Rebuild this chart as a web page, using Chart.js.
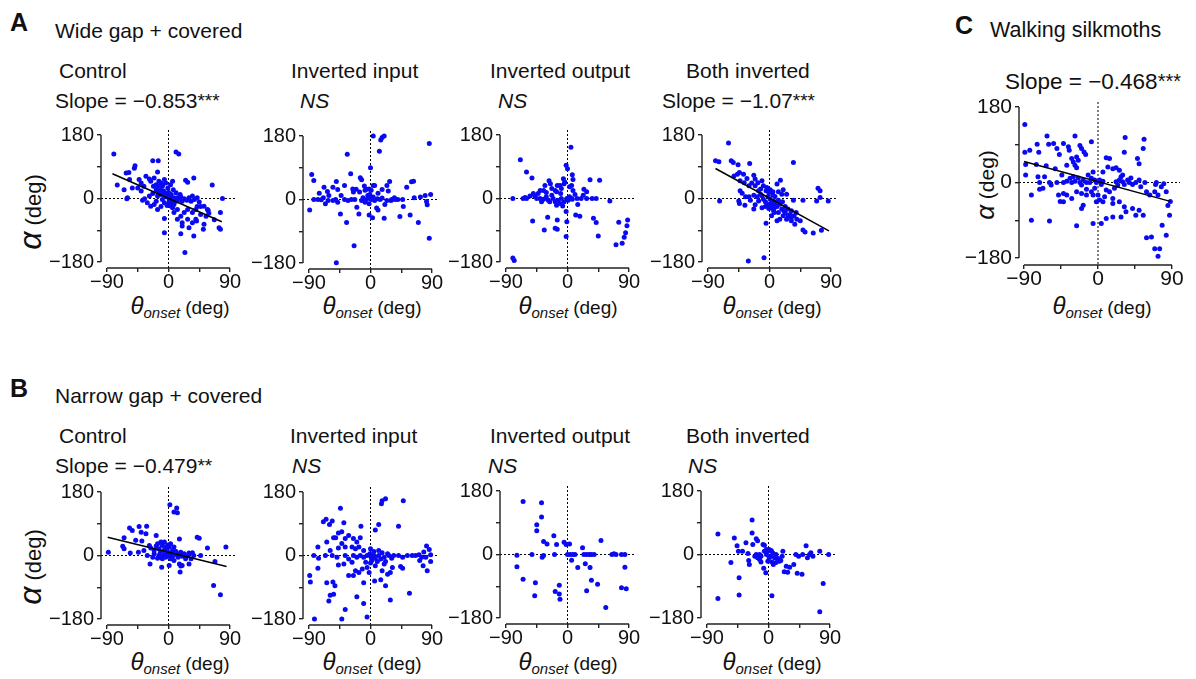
<!DOCTYPE html>
<html lang="en">
<head>
<meta charset="UTF-8" />
<title>Steering angle vs onset angle</title>
<script src="https://cdn.jsdelivr.net/npm/chart.js"></script>
<style>
    * { margin: 0; padding: 0; box-sizing: border-box; }
    body {
        width: 1196px;
        height: 679px;
        position: relative;
        overflow: hidden;
        background: #ffffff;
        color: #111;
        font-family: Arial, "Liberation Sans", sans-serif;
    }
    canvas { position: absolute; }
    .t { position: absolute; white-space: nowrap; line-height: 1; font-size: 21px; }
    .big { font-weight: bold; font-size: 25px; }
    .ns { font-style: italic; }
    .star { font-size: 19px; vertical-align: 1px; }
    .xt { position: absolute; white-space: nowrap; line-height: 1; font-size: 19px; transform: translateX(-50%); }
    .xt .th { font-size: 24px; }
    .xt .sub { font-size: 15px; vertical-align: -4px; margin-right: 5px; }
    .yt { position: absolute; white-space: nowrap; line-height: 1; font-size: 22px; transform: translate(-50%, -50%) rotate(-90deg); }
    .yt .al { font-size: 32px; }
</style>
</head>
<body>
    <!-- panel A -->
    <div class="t big" style="left:10px; top:10px">A</div>
    <div class="t" style="left:55px; top:20px">Wide gap + covered</div>
    <div class="t" style="left:59px; top:60px">Control</div>
    <div class="t" style="left:55px; top:90px">Slope = &minus;0.853<span class="star">***</span></div>
    <div class="t" style="left:291px; top:60px">Inverted input</div>
    <div class="t ns" style="left:300px; top:90px">NS</div>
    <div class="t" style="left:490px; top:60px">Inverted output</div>
    <div class="t ns" style="left:498px; top:90px">NS</div>
    <div class="t" style="left:686px; top:60px">Both inverted</div>
    <div class="t" style="left:662px; top:90px">Slope = &minus;1.07<span class="star">***</span></div>

    <!-- panel B -->
    <div class="t big" style="left:10px; top:376px">B</div>
    <div class="t" style="left:55px; top:385px">Narrow gap + covered</div>
    <div class="t" style="left:59px; top:425px">Control</div>
    <div class="t" style="left:55px; top:455px">Slope = &minus;0.479<span class="star">**</span></div>
    <div class="t" style="left:290px; top:425px">Inverted input</div>
    <div class="t ns" style="left:292px; top:455px">NS</div>
    <div class="t" style="left:490px; top:425px">Inverted output</div>
    <div class="t ns" style="left:488px; top:455px">NS</div>
    <div class="t" style="left:686px; top:425px">Both inverted</div>
    <div class="t ns" style="left:688px; top:455px">NS</div>

    <!-- panel C -->
    <div class="t big" style="left:955px; top:13px">C</div>
    <div class="t" style="left:990px; top:20px; font-size:21.5px">Walking silkmoths</div>
    <div class="t" style="left:1005px; top:71px; font-size:22.5px">Slope = &minus;0.468<span class="star" style="font-size:20px">***</span></div>

    <!-- axis titles -->
    <div class="yt" style="left:30px; top:212px"><i class="al">&alpha;</i> (deg)</div>
    <div class="yt" style="left:30px; top:567px"><i class="al">&alpha;</i> (deg)</div>
    <div class="yt" style="left:985px; top:185px; font-size:21px"><i class="al" style="font-size:26px">&alpha;</i> (deg)</div>

    <div class="xt" style="left:180px; top:294px"><i class="th">&theta;</i><i class="sub">onset</i>(deg)</div>
    <div class="xt" style="left:372px; top:294px"><i class="th">&theta;</i><i class="sub">onset</i>(deg)</div>
    <div class="xt" style="left:568px; top:294px"><i class="th">&theta;</i><i class="sub">onset</i>(deg)</div>
    <div class="xt" style="left:772px; top:294px"><i class="th">&theta;</i><i class="sub">onset</i>(deg)</div>
    <div class="xt" style="left:180px; top:650px"><i class="th">&theta;</i><i class="sub">onset</i>(deg)</div>
    <div class="xt" style="left:372px; top:650px"><i class="th">&theta;</i><i class="sub">onset</i>(deg)</div>
    <div class="xt" style="left:568px; top:650px"><i class="th">&theta;</i><i class="sub">onset</i>(deg)</div>
    <div class="xt" style="left:772px; top:650px"><i class="th">&theta;</i><i class="sub">onset</i>(deg)</div>
    <div class="xt" style="left:1102px; top:294px"><i class="th">&theta;</i><i class="sub">onset</i>(deg)</div>

    <canvas id="wideControl"></canvas>
    <canvas id="wideInvIn"></canvas>
    <canvas id="wideInvOut"></canvas>
    <canvas id="wideBoth"></canvas>
    <canvas id="narrowControl"></canvas>
    <canvas id="narrowInvIn"></canvas>
    <canvas id="narrowInvOut"></canvas>
    <canvas id="narrowBoth"></canvas>
    <canvas id="walking"></canvas>

<script>
    // tick values and which of them get a label
    const xTicks = [-90, -45, 0, 45, 90];
    const xLabels = [-90, 0, 90];
    const yTicks = [-180, -90, 0, 90, 180];
    const yLabels = [-180, 0, 180];

    // [theta_onset, alpha] pairs
    const wideControl = [
        [-80,126],[11,132],[15,126],[-23,107],[-15,107],[-49,93],[-50,86],[-58,74],[-62,72],[-16,75],
        [25,52],[28,46],[37,58],[64,38],[-75,38],[-60,2],[-61,-1],[79,0],[76,-40],[76,-87],
        [74,-83],[67,-60],[58,-33],[55,-50],[47,-45],[42,-23],[-6,-57],[-6,-97],[18,-100],[37,-106],
        [24,-153],[51,-87],[41,-64],[35,-69],[28,-59],[20,-69],[-43,54],[-40,44],[-33,63],[-28,55],
        [-26,49],[-21,58],[-18,39],[-14,49],[-11,44],[-9,35],[-4,44],[-1,30],[3,39],[7,25],
        [4,11],[-28,7],[-23,14],[-31,-12],[-26,-22],[-38,-5],[-35,-1],[-18,-8],[-16,7],[-14,21],
        [-11,11],[-9,-3],[-6,-12],[-4,5],[1,-3],[1,-12],[4,-22],[8,-17],[11,-8],[13,2],
        [16,-3],[18,5],[20,-8],[23,-1],[27,-5],[30,2],[33,-8],[35,7],[38,-3],[42,2],
        [45,-10],[47,-23],[52,-22],[57,-31],[59,-42],[40,-31],[35,-40],[28,-31],[23,-40],[18,-50],
        [13,-31],[8,-40],[6,-26],[13,-59],[20,-78],[30,-83],[40,-59],[52,-73],[8,2],[6,-10],
        [-2,-20],[-11,-23],[-16,-31],[-21,-17],[-18,25],[-22,35],[-16,35],[-12,25],[-7,21],[-5,14],
        [0,18],[2,7],[6,-1],[-1,11],[-9,39],[-6,54],[6,49],[11,16],[17,11],[-40,21],
        [-45,30],[-53,30],[-36,35],[-57,54],[-65,25]
    ];
    const wideInvIn = [
        [4,180],[17,176],[15,169],[20,180],[13,137],[0,90],[86,159],[-34,128],[-86,71],[-83,54],
        [-29,73],[-50,51],[-68,35],[-63,23],[-75,18],[-55,35],[-48,28],[-38,40],[-26,30],[-21,29],
        [-15,62],[-13,56],[-9,38],[-16,21],[-6,29],[-1,14],[4,40],[6,40],[11,18],[17,28],
        [24,40],[28,51],[26,24],[35,5],[40,0],[47,0],[53,35],[60,50],[63,52],[64,5],
        [73,7],[80,11],[88,14],[82,-6],[83,-15],[-89,-30],[-83,0],[-77,0],[-72,-1],[-66,-12],
        [-62,-3],[-55,-3],[-51,0],[-48,-8],[-44,-41],[-35,-65],[-38,0],[-33,-3],[-28,0],[-20,-22],
        [-17,-41],[-13,-3],[-8,-8],[-6,0],[-3,5],[-2,-12],[1,0],[4,7],[-2,-44],[3,-52],
        [9,-24],[11,-30],[14,0],[17,4],[21,-14],[20,-53],[30,-3],[36,0],[43,-48],[48,-20],
        [58,-44],[70,-65],[86,-110],[-24,-131],[-50,-179],[-8,26],[-4,11],[6,-3],[10,2],[24,-3],
        [31,0],[-23,0],[-43,11],[-61,11],[-69,5],[-11,5],[1,26],[-2,30],[-25,21]
    ];
    const wideInvOut = [
        [5,145],[-69,110],[-60,75],[-52,58],[-2,94],[0,84],[7,67],[8,54],[-6,56],[-4,47],
        [-27,50],[-25,42],[33,53],[47,52],[24,26],[28,19],[6,37],[8,23],[-15,37],[-11,37],
        [-18,23],[-33,37],[-35,23],[-40,23],[-43,14],[-50,14],[-55,7],[-48,7],[-62,3],[-65,0],
        [-80,0],[-60,0],[-40,0],[-38,-9],[-35,-2],[-31,5],[-28,-5],[-23,9],[-21,0],[-18,-9],
        [-16,-19],[-14,-5],[-10,14],[-9,0],[-5,-9],[-1,0],[1,-5],[3,5],[6,0],[-2,-37],
        [-1,-66],[-2,-108],[-15,-61],[-18,-84],[-15,-87],[-29,-53],[-34,-89],[-51,-64],[12,-47],[18,-50],
        [15,-17],[23,9],[28,0],[36,0],[42,0],[38,-56],[42,-68],[45,-106],[62,-7],[71,-131],
        [75,-67],[80,-127],[83,-110],[85,-97],[87,-77],[88,-61],[-80,-169],[-78,-176],[-23,28],[-16,19],
        [-9,28],[-5,42],[3,33],[11,11],[14,0],[20,0],[-31,17],[-45,0],[-26,-9],[-11,-14],
        [-7,-21],[7,-2]
    ];
    const wideBoth = [
        [-60,157],[-79,107],[-74,104],[-56,107],[-53,102],[-46,96],[-29,99],[35,102],[71,29],[74,22],
        [-73,-7],[-52,64],[-47,69],[-44,74],[-38,69],[-33,57],[-23,66],[-21,55],[-17,45],[-11,50],
        [-43,50],[-37,45],[-30,36],[-26,44],[-13,27],[-9,36],[-4,31],[1,25],[5,19],[11,41],
        [16,52],[13,19],[18,12],[20,25],[25,12],[35,-5],[49,-5],[69,-7],[74,3],[86,-7],
        [-43,22],[-40,15],[-35,5],[-30,5],[-23,9],[-18,5],[-13,12],[-45,-7],[-44,-14],[-36,-19],
        [-28,-5],[-21,-18],[-23,-30],[-9,-2],[-6,-9],[-2,6],[1,-2],[3,-11],[6,-7],[8,-16],
        [11,-23],[2,-26],[6,-35],[13,-5],[15,-16],[19,-9],[23,-23],[27,-30],[30,-45],[32,-35],
        [36,-49],[40,-59],[45,-63],[49,-89],[52,-95],[64,-98],[76,-90],[37,-73],[25,-59],[20,-49],
        [15,-59],[11,-63],[-5,-70],[3,-49],[7,-40],[-1,-28],[-6,-23],[-11,-26],[-8,-168],[-31,-177],
        [23,-40],[27,-49],[32,-63],[13,-40],[8,6],[5,9],[-1,17],[-5,22],[-11,8],[-16,22],
        [-21,36],[-16,-7],[-3,-16],[0,-21],[3,-19],[7,-26],[18,-30],[21,-35],[39,-40],[32,-54]
    ];
    const narrowControl = [
        [2,144],[8,123],[12,135],[13,121],[-57,78],[-53,71],[-43,82],[-32,83],[-40,66],[-33,62],
        [-18,57],[-65,50],[-67,26],[-65,19],[-88,9],[-56,7],[-48,43],[-39,41],[-44,9],[-36,14],
        [-28,28],[-26,21],[-21,14],[-18,27],[-16,33],[-11,38],[-9,28],[-6,38],[-4,24],[-2,14],
        [-1,30],[1,24],[3,33],[6,14],[8,24],[11,11],[16,47],[13,5],[18,9],[23,5],
        [28,0],[35,8],[42,52],[45,49],[57,21],[84,24],[68,-17],[-14,0],[-16,-8],[-11,-5],
        [-6,2],[-9,-9],[-4,-5],[1,0],[3,-9],[6,-2],[8,-14],[-10,-33],[-27,-24],[1,-28],
        [16,-24],[18,-30],[20,-28],[17,-47],[30,-24],[33,-9],[30,7],[47,0],[66,-85],[76,-111],
        [-23,-5],[-31,0],[-21,5],[-14,19],[-7,14],[-1,8],[4,8],[8,2],[14,-5],[20,-2],
        [25,-9],[37,0],[-12,8]
    ];
    const narrowInvIn = [
        [-44,134],[17,155],[22,161],[16,147],[48,155],[-69,96],[-65,103],[-56,98],[-60,88],[-39,93],
        [41,83],[12,88],[7,72],[-14,83],[-42,67],[-32,57],[-54,50],[-51,50],[-47,64],[-64,38],
        [-77,24],[-37,48],[-25,48],[-20,38],[-15,50],[-42,34],[-37,24],[-47,21],[-59,14],[-27,24],
        [-22,19],[-17,24],[-10,14],[0,19],[5,11],[12,14],[17,8],[25,5],[-83,0],[-76,-8],
        [-66,0],[-56,0],[-49,-5],[-47,-27],[-37,0],[-32,-10],[-25,0],[-20,-5],[-15,0],[-10,-5],
        [-5,0],[-1,5],[1,-5],[2,-14],[5,0],[7,-8],[10,-17],[12,0],[15,-10],[20,-5],
        [22,-17],[27,0],[31,-8],[34,0],[41,0],[47,-5],[54,0],[61,0],[66,0],[71,2],
        [75,-5],[78,10],[82,27],[86,17],[88,2],[81,-5],[77,-29],[83,-43],[88,-17],[72,-14],
        [44,-31],[47,-36],[29,-48],[25,-53],[17,-43],[15,-69],[6,-72],[-2,-48],[-5,-34],[-12,-38],
        [-17,-48],[-22,-43],[-10,-77],[-25,-57],[-32,-57],[-89,-57],[-88,-75],[-77,-36],[-64,-77],[-55,-75],
        [-52,-86],[-54,-110],[-59,-113],[-61,-129],[-20,-117],[-10,-136],[-37,-153],[-42,-180],[-82,-180],[-5,-174],
        [29,-126],[57,-107],[22,-86],[2,-10],[-7,-19],[0,-21],[7,-29],[20,-24],[32,-34],[-27,-19],
        [-39,-24]
    ];
    const narrowInvOut = [
        [-65,150],[-38,147],[-38,106],[-45,84],[-45,67],[-35,37],[-30,30],[-20,53],[-16,28],[-5,35],
        [-2,28],[3,30],[22,19],[49,40],[-74,-2],[-52,0],[-35,-3],[-37,-8],[-19,0],[0,0],
        [4,0],[8,0],[11,0],[6,-16],[15,-37],[26,-26],[24,0],[28,0],[32,0],[35,0],
        [39,0],[33,-37],[35,-73],[44,-84],[28,-103],[56,-150],[65,0],[68,2],[71,0],[79,0],
        [84,0],[84,-36],[79,-94],[86,-97],[-74,-35],[-65,-70],[-47,-80],[-48,-117],[-18,-105],[-12,-87],
        [-12,-112],[-11,-127]
    ];
    const narrowBoth = [
        [-24,98],[-74,58],[-24,61],[-50,47],[-18,45],[-16,39],[-33,33],[-46,25],[-23,28],[-8,28],
        [-6,26],[55,25],[-44,9],[-38,9],[-30,3],[-18,0],[-13,0],[-6,9],[-3,14],[-1,9],
        [1,14],[4,11],[6,5],[11,0],[21,9],[40,0],[44,-5],[50,0],[57,-9],[60,0],
        [62,5],[65,-5],[75,9],[88,0],[-55,-23],[-29,-17],[-28,-28],[-13,-14],[-11,-21],[-7,-39],
        [-4,-52],[-1,-19],[1,-9],[5,-21],[7,-28],[11,-23],[16,-19],[18,-17],[20,-5],[26,-33],
        [28,-50],[23,-49],[31,-36],[37,-28],[42,-53],[49,-56],[-43,-66],[-43,-115],[-74,-125],[5,-117],
        [80,-82],[75,-162],[-3,0],[4,-5],[9,-9],[14,-11],[-11,-5],[-16,-9],[-20,-5]
    ];
    const walking = [
        [-89,138],[-89,72],[-83,77],[-74,91],[-72,72],[-62,111],[-60,91],[-54,93],[-50,81],[-47,67],
        [-42,93],[-36,85],[-35,77],[-28,111],[-22,88],[-20,81],[-17,73],[-15,67],[-8,97],[-32,57],
        [-30,49],[-26,61],[-24,53],[-38,41],[-28,41],[-26,35],[-88,43],[-88,18],[-75,43],[-73,14],
        [-71,0],[-65,14],[-63,40],[-59,0],[-57,-6],[-52,33],[-50,0],[-44,18],[-42,0],[-38,3],
        [-34,10],[-32,0],[-30,14],[-28,3],[-24,11],[-22,0],[-20,-6],[-18,6],[-14,0],[-12,18],
        [-10,0],[-8,10],[-6,25],[-4,6],[-2,0],[2,6],[4,-5],[6,3],[-42,-26],[-42,-46],
        [-38,-30],[-32,-38],[-26,-22],[-20,-26],[-18,-54],[-20,-62],[-14,-30],[-8,-22],[-6,-30],[-4,-14],
        [0,-30],[2,-42],[6,-46],[8,-34],[10,-18],[14,-22],[18,-38],[20,-14],[22,2],[24,-6],
        [26,6],[28,14],[30,2],[32,-5],[36,6],[38,0],[40,11],[42,-5],[46,0],[50,6],
        [52,-10],[57,0],[59,-22],[63,-30],[69,-22],[71,0],[10,59],[14,57],[6,25],[12,37],
        [18,33],[22,35],[26,29],[30,18],[33,107],[32,72],[48,57],[55,81],[56,103],[50,45],
        [4,-98],[-6,-98],[-26,-103],[-81,-90],[-59,-92],[10,-86],[18,-82],[28,-82],[34,-70],[42,-62],
        [46,-78],[50,-66],[55,-78],[59,-132],[65,-130],[69,-158],[75,-158],[73,-176],[78,-102],[83,-126],
        [87,-78],[73,-30],[77,-10],[83,-22],[-81,-30],[-71,-16],[-67,-14],[-48,-30],[-46,-45],[-14,-16],
        [-2,-46],[26,-46],[32,-58],[18,-50],[70,-5],[80,-3],[85,-55],[88,-45]
    ];

    // regression line end points
    const wideControlFit = [[-82, 70], [78, -66]];
    const wideBothFit = [[-79, 85], [87, -92]];
    const narrowControlFit = [[-89, 52], [85, -31]];
    const walkingFit = [[-90, 50], [88, -45]];

    const minus = v => (v < 0 ? "\u2212" + Math.abs(v) : String(v));

    // offset (Prism style) axes and dotted zero lines
    const prismAxes = {
        id: "prismAxes",
        beforeDatasetsDraw(chart) {
            const { ctx, chartArea: a, scales: { x, y } } = chart;
            const x0 = x.getPixelForValue(0);
            const y0 = y.getPixelForValue(0);
            ctx.save();
            ctx.strokeStyle = "#000";
            ctx.lineWidth = 1;
            ctx.setLineDash([2, 2]);
            ctx.beginPath();
            ctx.moveTo(x0, a.top);
            ctx.lineTo(x0, a.bottom);
            ctx.moveTo(a.left, y0);
            ctx.lineTo(a.right, y0);
            ctx.stroke();
            ctx.setLineDash([]);
            ctx.lineWidth = 1.4;
            ctx.strokeStyle = "#222";
            ctx.beginPath();
            ctx.moveTo(a.left, y.getPixelForValue(yTicks[yTicks.length - 1]));
            ctx.lineTo(a.left, y.getPixelForValue(yTicks[0]));
            ctx.moveTo(x.getPixelForValue(xTicks[0]), a.bottom);
            ctx.lineTo(x.getPixelForValue(xTicks[xTicks.length - 1]), a.bottom);
            ctx.stroke();
            ctx.restore();
        }
    };

    function makePanel(id, pts, fit, geo) {
        const YW = 60, PT = 14, PR = 22, XH = 28;
        const { xl, y180, w, h, offL, offR, offT, offB, fs } = geo;
        const kx = w / 180, ky = h / 360;
        const chartW = w + offL + offR, chartH = h + offT + offB;
        const canvas = document.getElementById(id);
        canvas.width = YW + chartW + PR;
        canvas.height = PT + chartH + XH;
        canvas.style.left = (xl - YW) + "px";
        canvas.style.top = (y180 - offT - PT) + "px";

        const datasets = [];
        if (fit) {
            datasets.push({
                data: fit.map(p => ({ x: p[0], y: p[1] })),
                showLine: true,
                pointRadius: 0,
                borderColor: "#000",
                borderWidth: 1.5
            });
        }
        datasets.push({
            data: pts.map(p => ({ x: p[0], y: p[1] })),
            pointRadius: 2.5,
            pointBorderWidth: 0,
            backgroundColor: "#0a0af2",
            borderColor: "#0a0af2"
        });

        const tickFont = { family: "Arial, 'Liberation Sans', sans-serif", size: fs, lineHeight: 1 };
        const grid = { display: true, drawOnChartArea: false, drawTicks: true, tickLength: 4, color: "#222", lineWidth: 1.4 };

        new Chart(canvas, {
            type: "scatter",
            data: { datasets },
            options: {
                responsive: false,
                animation: false,
                devicePixelRatio: 1,
                layout: { padding: { top: PT, right: PR, left: 0, bottom: 0 } },
                plugins: { legend: { display: false }, tooltip: { enabled: false } },
                scales: {
                    x: {
                        type: "linear",
                        min: -90 - offL / kx,
                        max: 90 + offR / kx,
                        afterBuildTicks: s => { s.ticks = xTicks.map(v => ({ value: v })); },
                        afterFit: s => { s.height = XH; },
                        grid,
                        border: { display: false },
                        ticks: {
                            autoSkip: false, maxRotation: 0, minRotation: 0, padding: 0,
                            color: "#111", font: tickFont,
                            callback: v => (xLabels.includes(v) ? minus(v) : "")
                        }
                    },
                    y: {
                        type: "linear",
                        min: -180 - offB / ky,
                        max: 180 + offT / ky,
                        afterBuildTicks: s => { s.ticks = yTicks.map(v => ({ value: v })); },
                        afterFit: s => { s.width = YW; },
                        grid,
                        border: { display: false },
                        ticks: {
                            autoSkip: false, padding: 3,
                            color: "#111", font: tickFont,
                            callback: v => (yLabels.includes(v) ? minus(v) : "")
                        }
                    }
                }
            },
            plugins: [prismAxes]
        });
    }

    const small = (xl, y180) => ({ xl, y180, w: 123, h: 127, offL: 6, offR: 6, offT: 5, offB: 6, fs: 20 });

    makePanel("wideControl", wideControl, wideControlFit, small(101, 135));
    makePanel("wideInvIn", wideInvIn, null, small(303, 136));
    makePanel("wideInvOut", wideInvOut, null, small(500, 135));
    makePanel("wideBoth", wideBoth, wideBothFit, small(702, 135));
    makePanel("narrowControl", narrowControl, narrowControlFit, small(101, 492));
    makePanel("narrowInvIn", narrowInvIn, null, small(303, 492));
    makePanel("narrowInvOut", narrowInvOut, null, small(500, 491));
    makePanel("narrowBoth", narrowBoth, null, small(701, 491));
    makePanel("walking", walking, walkingFit,
        { xl: 1019, y180: 107, w: 148, h: 151, offL: 5, offR: 8, offT: 5, offB: 7, fs: 21 });
</script>
</body>
</html>
